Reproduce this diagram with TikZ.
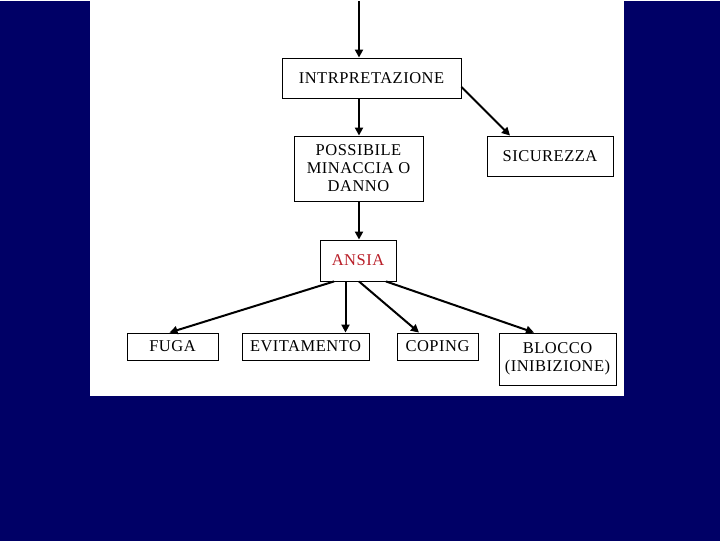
\documentclass[tikz,border=0pt]{standalone}
\usepackage{fontspec}
\setmainfont{Liberation Serif}[LetterSpace=3]
\usetikzlibrary{arrows.meta,shadows}
\definecolor{navyback}{RGB}{0,0,102}
\definecolor{ansiared}{RGB}{185,30,40}
\tikzset{
  box/.style={draw,fill=white,line width=0.9pt,inner sep=0pt,align=center,
    font=\fontsize{16.5}{18}\selectfont,
    drop shadow={shadow xshift=1.3pt,shadow yshift=-1.3pt,opacity=1,fill=black}},
  link/.style={-{Triangle[length=8pt,width=8pt]},line width=2pt}
}
\begin{document}
\begin{tikzpicture}[x=1pt,y=-1pt]
        % Background and white panel
        \fill[navyback] (0,0) rectangle (720,540);
        \fill[white] (90,0) rectangle (624,395);

        % Boxes
        \node[box,minimum width=179pt,minimum height=40pt] (interp) at (371.5,77) {INTRPRETAZIONE};
        \node[box,minimum width=129pt,minimum height=65pt] (minaccia) at (358.5,167.5) {POSSIBILE\\MINACCIA O\\DANNO};
        \node[box,minimum width=126pt,minimum height=40pt] (sicur) at (550,155) {SICUREZZA};
        \node[box,minimum width=76pt,minimum height=41pt,text=ansiared] (ansia) at (358,259.5) {ANSIA};
        \node[box,minimum width=91pt,minimum height=27pt] (fuga) at (172.5,345.5) {FUGA};
        \node[box,minimum width=127pt,minimum height=27pt] (evit) at (305.5,345.5) {EVITAMENTO};
        \node[box,minimum width=81pt,minimum height=27pt] (coping) at (437.5,345.5) {COPING};
        \node[box,minimum width=117pt,minimum height=52pt] (blocco) at (557.5,358) {BLOCCO\\(INIBIZIONE)};
        \coordinate (start) at (359,0);

        % Connectors
        \draw[link] (start) -- (start |- interp.north);
        \draw[link] (start |- interp.south) -- (start |- minaccia.north);
        \draw[link] ([yshift=-9pt]interp.east) -- ([xshift=-40pt]sicur.north);
        \draw[link] (start |- minaccia.south) -- (start |- ansia.north);
        \draw[link] ([xshift=-24pt]ansia.south) -- ([xshift=-3pt]fuga.north);
        \draw[link] ([xshift=-12.5pt]ansia.south) -- ([xshift=40pt]evit.north);
        \draw[link] ([xshift=1pt]ansia.south) -- ([xshift=-18.5pt]coping.north);
        \draw[link] ([xshift=28pt]ansia.south) -- ([xshift=-23.5pt]blocco.north);
\end{tikzpicture}
\end{document}
